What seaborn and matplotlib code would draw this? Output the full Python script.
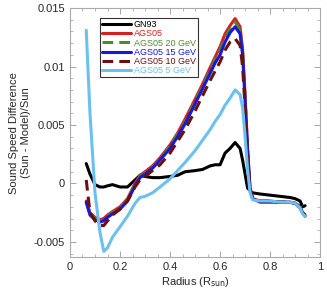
import matplotlib
matplotlib.use("Agg")
import matplotlib.pyplot as plt
import seaborn as sns
from matplotlib.ticker import MultipleLocator

radius = [0.065, 0.08, 0.1, 0.12, 0.135, 0.15, 0.17, 0.2, 0.23, 0.26, 0.28, 0.3,
          0.33, 0.36, 0.4, 0.43, 0.46, 0.5, 0.53, 0.56, 0.58, 0.6, 0.62, 0.64,
          0.66, 0.68, 0.69, 0.70, 0.71, 0.72, 0.73, 0.76, 0.8, 0.84, 0.88, 0.9,
          0.92, 0.93, 0.94]

gn93 = [0.0017, 0.0008, -0.0001, -0.0003, -0.0003, -0.0002, -0.0001, -0.0003,
        -0.0003, 0.0003, 0.0007, 0.0006, 0.0005, 0.0005, 0.0006, 0.0007, 0.0010,
        0.0011, 0.0012, 0.0015, 0.0016, 0.0016, 0.0026, 0.0030, 0.0035, 0.0030,
        0.0020, 0.0008, -0.0004, -0.0006, -0.0008, -0.0009, -0.0010, -0.0011,
        -0.0012, -0.0013, -0.0015, -0.0020, -0.0019]

ags05 = [-0.0015, -0.0025, -0.0029, -0.0031, -0.0030, -0.0027, -0.0024, -0.0020,
         -0.0013, 0.0000, 0.0007, 0.0010, 0.0015, 0.0022, 0.0033, 0.0043, 0.0055,
         0.0072, 0.0085, 0.0099, 0.0108, 0.0117, 0.0128, 0.0135, 0.0141, 0.0134,
         0.0115, 0.0075, 0.0030, -0.0005, -0.0013, -0.0015, -0.0015, -0.0016,
         -0.0016, -0.0017, -0.0020, -0.0025, -0.0027]

ags05_20 = [-0.0016, -0.0026, -0.0030, -0.0032, -0.0031, -0.0028, -0.0025, -0.0021,
            -0.0014, -0.0001, 0.0006, 0.0009, 0.0014, 0.0021, 0.0032, 0.0042, 0.0053,
            0.0070, 0.0083, 0.0097, 0.0106, 0.0114, 0.0125, 0.0132, 0.0138, 0.0131,
            0.0112, 0.0073, 0.0029, -0.0005, -0.0013, -0.0015, -0.0015, -0.0016,
            -0.0016, -0.0017, -0.0020, -0.0025, -0.0027]

ags05_15 = [-0.0016, -0.0027, -0.0031, -0.0033, -0.0032, -0.0029, -0.0026, -0.0022,
            -0.0015, -0.0002, 0.0005, 0.0008, 0.0013, 0.0020, 0.0030, 0.0040, 0.0051,
            0.0068, 0.0081, 0.0094, 0.0103, 0.0110, 0.0121, 0.0129, 0.0134, 0.0128,
            0.0110, 0.0071, 0.0028, -0.0005, -0.0013, -0.0016, -0.0016, -0.0016,
            -0.0016, -0.0017, -0.0021, -0.0025, -0.0028]

ags05_10 = [0.0003, -0.0025, -0.0032, -0.0036, -0.0036, -0.0032, -0.0027, -0.0022,
            -0.0015, -0.0003, 0.0003, 0.0006, 0.0011, 0.0016, 0.0026, 0.0036, 0.0046,
            0.0062, 0.0075, 0.0088, 0.0096, 0.0104, 0.0114, 0.0121, 0.0124, 0.0118,
            0.0100, 0.0065, 0.0025, -0.0005, -0.0013, -0.0015, -0.0015, -0.0016,
            -0.0016, -0.0017, -0.0020, -0.0025, -0.0027]

ags05_5 = [0.0131, 0.0060, -0.0008, -0.0042, -0.0058, -0.0055, -0.0046, -0.0037,
           -0.0028, -0.0017, -0.0012, -0.0011, -0.0008, -0.0003, 0.0004, 0.0011, 0.0018,
           0.0028, 0.0037, 0.0046, 0.0053, 0.0059, 0.0067, 0.0073, 0.0080, 0.0076,
           0.0065, 0.0040, 0.0012, -0.0008, -0.0014, -0.0015, -0.0015, -0.0016,
           -0.0016, -0.0017, -0.0021, -0.0026, -0.0028]

labels = ["GN93", "AGS05", "AGS05 20 GeV", "AGS05 15 GeV", "AGS05 10 GeV", "AGS05 5 GeV"]
series = [gn93, ags05, ags05_20, ags05_15, ags05_10, ags05_5]
colors = ["#000000", "#d42020", "#4c8a2c", "#1818d8", "#6a1010", "#6cc0f0"]
dashed = [False, False, True, False, True, False]

xticks = [0, 0.2, 0.4, 0.6, 0.8, 1]
xticklabels = ["0", "0.2", "0.4", "0.6", "0.8", "1"]
yticks = [-0.005, 0, 0.005, 0.01, 0.015]
yticklabels = ["-0.005", "0", "0.005", "0.01", "0.015"]

sns.set_style("ticks")
plt.rcParams['font.family'] = ['Liberation Sans', 'DejaVu Sans']

fig = plt.figure(figsize=(3.27, 2.99), dpi=100)
ax = fig.add_axes([0.214, 0.140, 0.765, 0.833])

for lab, vals, col, dsh in zip(labels, series, colors, dashed):
    sns.lineplot(x=radius, y=vals, ax=ax, color=col, lw=2.2, label=lab,
                 linestyle=(0, (3.5, 2)) if dsh else "-")

ax.set_xticks(xticks)
ax.set_xticklabels(xticklabels)
ax.set_yticks(yticks)
ax.set_yticklabels(yticklabels)
ax.xaxis.set_minor_locator(MultipleLocator(0.05))
ax.yaxis.set_minor_locator(MultipleLocator(0.001))
ax.set_xlim(0, 1)
ax.set_ylim(-0.0063, 0.015)
ax.tick_params(which="both", direction="in", top=True, right=True, labelsize=8,
               color="#999999")
ax.tick_params(which="major", length=4, width=0.6)
ax.tick_params(which="minor", length=2, width=0.5)
for s in ax.spines.values():
    s.set_color("#aaaaaa")
    s.set_linewidth(0.8)

ax.set_xlabel("Radius (R$_{\\mathrm{sun}}$)", fontsize=8, labelpad=2)
ax.set_ylabel("Sound Speed Difference\n(Sun - Model)/Sun", fontsize=8, labelpad=2)

leg = ax.legend(loc="upper left", bbox_to_anchor=(0.12, 0.96), fontsize=6.5,
                frameon=True, fancybox=False, handlelength=3.2, handletextpad=0.3,
                labelspacing=0.02, borderpad=0.25, borderaxespad=0)
leg.get_frame().set_edgecolor("black")
leg.get_frame().set_linewidth(0.8)
for txt, col in zip(leg.get_texts(), colors):
    txt.set_color(col)

fig.savefig("out.png", dpi=100)
